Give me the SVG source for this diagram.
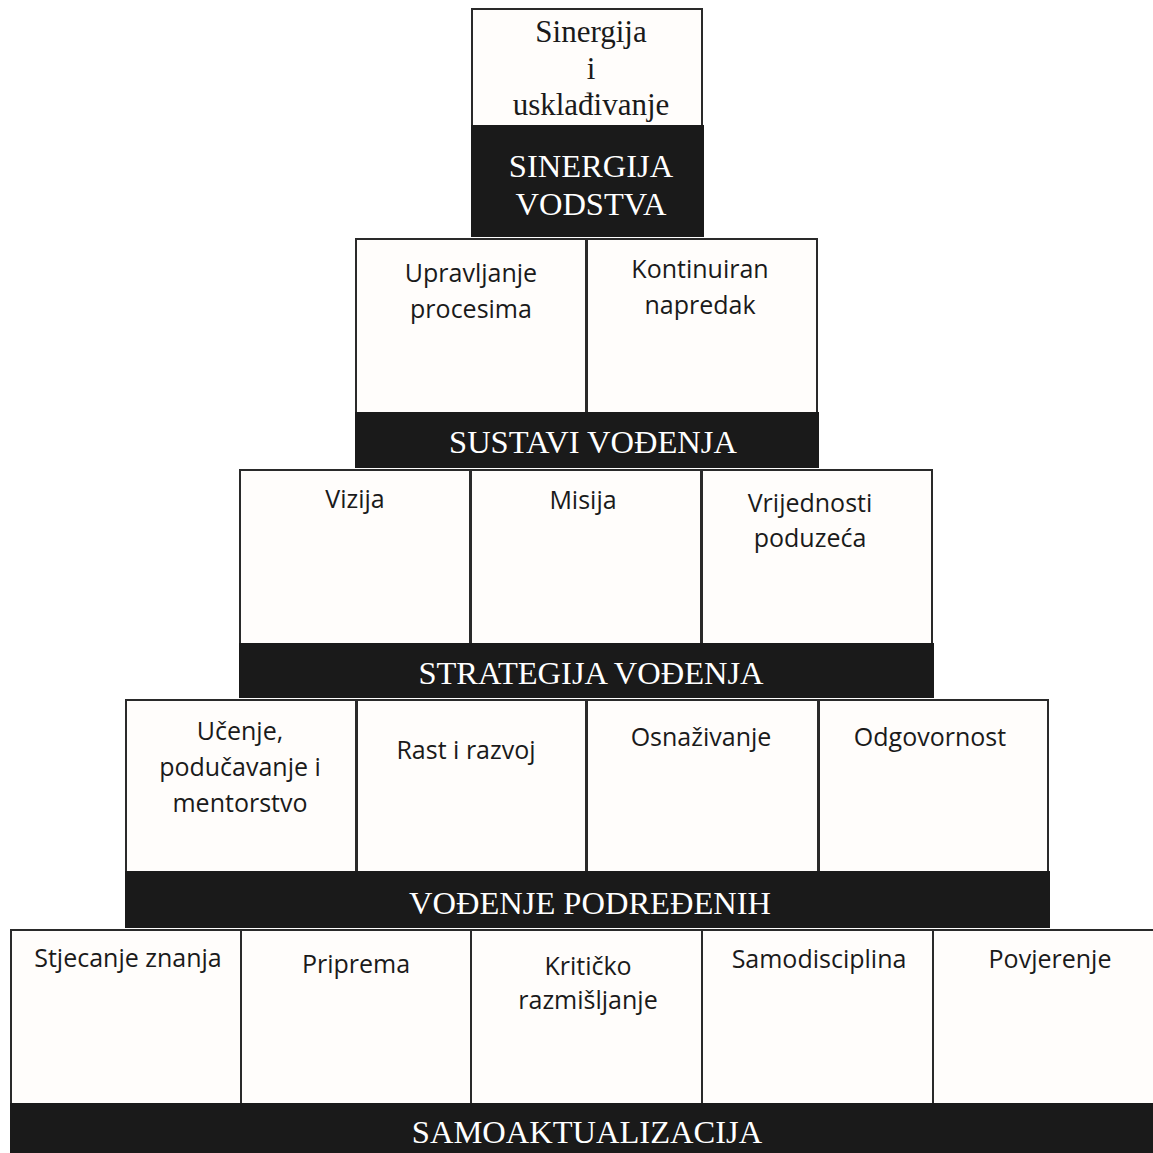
<svg xmlns="http://www.w3.org/2000/svg" width="1153" height="1153" viewBox="0 0 1153 1153">
<style>
.box{fill:#fffdfb;stroke:#2a2a2a;stroke-width:2}
.bar{fill:#1a1a1a}
.title{font-family:"Liberation Serif",serif;font-size:32.5px;fill:#ffffff;text-anchor:middle}
.top{font-family:"Liberation Serif",serif;font-size:31px;fill:#1a1a1a;text-anchor:middle}
.lbl{font-family:"Open Sans","Liberation Sans",sans-serif;font-size:25px;fill:#1a1a1a;text-anchor:middle}
</style>
<rect width="1153" height="1153" fill="#ffffff"/>
<g id="tier1">
<rect class="box" x="472" y="9" width="230" height="118"/>
<rect class="bar" x="471" y="125" width="233" height="112"/>
<text class="top" x="591" y="42">Sinergija</text>
<text class="top" x="591" y="79">i</text>
<text class="top" x="591" y="115">usklađivanje</text>
<text class="title" x="591" y="177">SINERGIJA</text>
<text class="title" x="591" y="215">VODSTVA</text>
</g>
<g id="tier2">
<rect class="box" x="356" y="239" width="230" height="175"/>
<rect class="box" x="587" y="239" width="230" height="175"/>
<rect class="bar" x="355" y="412" width="464" height="56"/>
<text class="lbl" x="471" y="282">Upravljanje</text>
<text class="lbl" x="471" y="318">procesima</text>
<text class="lbl" x="700" y="278">Kontinuiran</text>
<text class="lbl" x="700" y="314">napredak</text>
<text class="title" x="593" y="453">SUSTAVI VOĐENJA</text>
</g>
<g id="tier3">
<rect class="box" x="240" y="470" width="230" height="175"/>
<rect class="box" x="471" y="470" width="230" height="175"/>
<rect class="box" x="702" y="470" width="230" height="175"/>
<rect class="bar" x="239" y="643" width="695" height="55"/>
<text class="lbl" x="355" y="508">Vizija</text>
<text class="lbl" x="583" y="509">Misija</text>
<text class="lbl" x="810" y="512">Vrijednosti</text>
<text class="lbl" x="810" y="547">poduzeća</text>
<text class="title" x="591" y="684">STRATEGIJA VOĐENJA</text>
</g>
<g id="tier4">
<rect class="box" x="126" y="700" width="230" height="173"/>
<rect class="box" x="357" y="700" width="229" height="173"/>
<rect class="box" x="587" y="700" width="231" height="173"/>
<rect class="box" x="819" y="700" width="229" height="173"/>
<rect class="bar" x="125" y="871" width="925" height="57"/>
<text class="lbl" x="240" y="740">Učenje,</text>
<text class="lbl" x="240" y="776">podučavanje i</text>
<text class="lbl" x="240" y="812">mentorstvo</text>
<text class="lbl" x="466" y="759">Rast i razvoj</text>
<text class="lbl" x="701" y="746">Osnaživanje</text>
<text class="lbl" x="930" y="746">Odgovornost</text>
<text class="title" x="590" y="914">VOĐENJE PODREĐENIH</text>
</g>
<g id="tier5">
<rect class="box" x="11" y="930" width="230" height="175"/>
<rect class="box" x="241" y="930" width="230" height="175"/>
<rect class="box" x="471" y="930" width="231" height="175"/>
<rect class="box" x="702" y="930" width="231" height="175"/>
<rect class="box" x="933" y="930" width="222" height="175"/>
<rect class="bar" x="10" y="1103" width="1143" height="50"/>
<text class="lbl" x="128" y="967">Stjecanje znanja</text>
<text class="lbl" x="356" y="973">Priprema</text>
<text class="lbl" x="588" y="975">Kritičko</text>
<text class="lbl" x="588" y="1009">razmišljanje</text>
<text class="lbl" x="819" y="968">Samodisciplina</text>
<text class="lbl" x="1050" y="968">Povjerenje</text>
<text class="title" x="587" y="1143">SAMOAKTUALIZACIJA</text>
</g>
<g id="connectors"></g>
</svg>
